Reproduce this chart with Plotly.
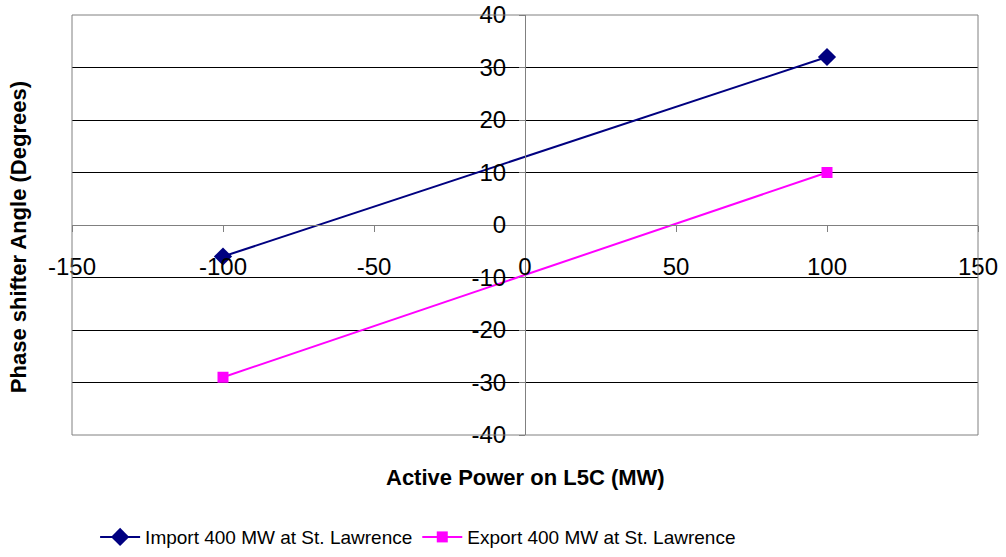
import plotly.graph_objects as go

x_vals = [-100, 100]
import_vals = [-6, 32]
export_vals = [-29, 10]
series_names = ["Import 400 MW at St. Lawrence", "Export 400 MW at St. Lawrence"]
x_ticks = [-150, -100, -50, 0, 50, 100, 150]
y_ticks = [-40, -30, -20, -10, 0, 10, 20, 30, 40]
x_ticktext = [str(v) for v in x_ticks]
y_ticktext = [str(v) for v in y_ticks]

FONT = "Liberation Sans, Arial, sans-serif"

fig = go.Figure()
fig.add_trace(go.Scatter(
    x=x_vals, y=import_vals, name=series_names[0], mode="lines+markers",
    line=dict(color="#000080", width=2),
    marker=dict(symbol="diamond", size=14, color="#000080"),
))
fig.add_trace(go.Scatter(
    x=x_vals, y=export_vals, name=series_names[1], mode="lines+markers",
    line=dict(color="#FF00FF", width=2),
    marker=dict(symbol="square", size=11, color="#FF00FF"),
))

fig.update_layout(
    width=1006, height=557,
    margin=dict(l=72, r=28, t=15, b=122, autoexpand=False),
    paper_bgcolor="white", plot_bgcolor="white",
    font=dict(family=FONT, color="black"),
    showlegend=True,
    legend=dict(orientation="h", x=0.0255, xanchor="left", y=-0.243, yanchor="middle",
                font=dict(size=19, family=FONT), itemwidth=40, tracegroupgap=0,
                bgcolor="rgba(0,0,0,0)"),
    xaxis=dict(range=[-150, 150], tickvals=x_ticks, ticktext=x_ticktext,
               anchor="free", position=0.5,
               showgrid=False, zeroline=False, showline=True, linecolor="#808080", linewidth=1,
               ticks="outside", ticklen=6, tickcolor="#808080",
               ticklabelstandoff=14,
               tickfont=dict(size=24, family=FONT, color="black")),
    yaxis=dict(range=[-40, 40], tickvals=y_ticks, ticktext=y_ticktext,
               anchor="free", position=0.5,
               showgrid=True, gridcolor="black", gridwidth=1, zeroline=False,
               showline=True, linecolor="#808080", linewidth=1,
               ticks="outside", ticklen=6, tickcolor="#808080",
               ticklabelstandoff=8,
               tickfont=dict(size=24, family=FONT, color="black")),
    shapes=[dict(type="rect", xref="paper", yref="paper", x0=0, x1=1, y0=0, y1=1,
                 line=dict(color="#808080", width=1), layer="above")],
    annotations=[
        dict(text="<b>Phase shifter Angle (Degrees)</b>", xref="paper", yref="paper",
             x=-0.0596, y=0.471, xanchor="center", yanchor="middle",
             textangle=-90, showarrow=False, font=dict(size=22, family=FONT)),
        dict(text="<b>Active Power on L5C (MW)</b>", xref="paper", yref="paper",
             x=0.5, y=-0.102, xanchor="center", yanchor="middle",
             showarrow=False, font=dict(size=22, family=FONT)),
    ],
)

fig.write_html("out.html")
